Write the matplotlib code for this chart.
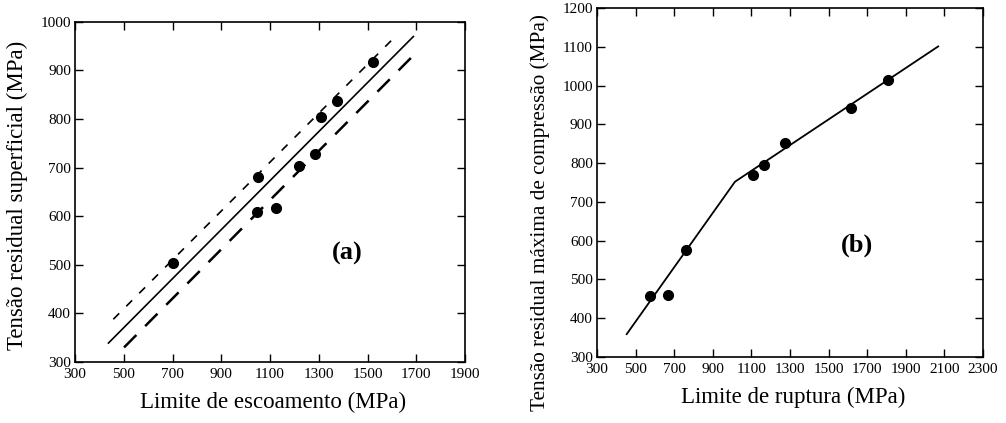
import numpy as np
import matplotlib
matplotlib.use("Agg")
import matplotlib.pyplot as plt

plt.rcParams['font.family'] = ['Liberation Serif', 'DejaVu Serif']

# (a) limite de escoamento x tensao residual superficial
esc_x = [700, 1045, 1052, 1125, 1220, 1285, 1308, 1374, 1524]
esc_y = [504, 608, 680, 616, 704, 729, 804, 837, 917]
fit_a_x = [437, 1688]
fit_a_y = [339, 970]
sup_a_x = [457, 1606]
sup_a_y = [388, 966]
inf_a_x = [501, 1684]
inf_a_y = [330, 929]

# (b) limite de ruptura x tensao residual maxima de compressao
rup_x = [575, 669, 759, 1110, 1167, 1274, 1614, 1809]
rup_y = [458, 460, 575, 769, 795, 851, 942, 1015]
fit_b_x = [454, 1015, 2068]
fit_b_y = [359, 752, 1101]

ticks_a_x = list(range(300, 2000, 200))
ticks_a_y = list(range(300, 1100, 100))
ticks_b_x = list(range(300, 2400, 200))
ticks_b_y = list(range(300, 1300, 100))

fig = plt.figure(figsize=(10.06, 4.23), dpi=100)
ax1 = fig.add_axes([0.0746, 0.1442, 0.3877, 0.804])
ax2 = fig.add_axes([0.5934, 0.156, 0.3837, 0.825])

for ax in (ax1, ax2):
    ax.tick_params(direction='in', top=True, right=True, length=6, width=1,
                   labelsize=11)
    ax.tick_params(axis='x', pad=4)
    ax.tick_params(axis='y', pad=3)
    for s in ax.spines.values():
        s.set_linewidth(1.2)

ax1.plot(fit_a_x, fit_a_y, color='black', lw=1.2)
ax1.plot(sup_a_x, sup_a_y, color='black', lw=1.2, dashes=(5, 6))
ax1.plot(inf_a_x, inf_a_y, color='black', lw=1.8, dashes=(7, 5))
ax1.plot(esc_x, esc_y, 'o', color='black', ms=7)
ax1.set_xlim(300, 1900)
ax1.set_ylim(300, 1000)
ax1.set_xticks(ticks_a_x)
ax1.set_yticks(ticks_a_y)
ax1.set_xlabel('Limite de escoamento (MPa)', fontsize=16.5)
ax1.xaxis.set_label_coords(0.508, -0.088)
ax1.set_ylabel('Tensão residual superficial (MPa)', fontsize=16.5)
ax1.yaxis.set_label_coords(-0.12, 0.49)
ax1.text(1415, 524, '(a)', fontsize=19, fontweight='bold', ha='center', va='center')

ax2.plot(fit_b_x, fit_b_y, color='black', lw=1.3)
ax2.plot(rup_x, rup_y, 'o', color='black', ms=7)
ax2.set_xlim(300, 2300)
ax2.set_ylim(300, 1200)
ax2.set_xticks(ticks_b_x)
ax2.set_yticks(ticks_b_y)
ax2.set_xlabel('Limite de ruptura (MPa)', fontsize=16.5)
ax2.xaxis.set_label_coords(0.508, -0.086)
# slightly smaller so the long label stays inside the figure
ax2.set_ylabel('Tensão residual máxima de compressão (MPa)', fontsize=15.3)
ax2.yaxis.set_label_coords(-0.122, 0.415)
ax2.text(1645, 587, '(b)', fontsize=19, fontweight='bold', ha='center', va='center')

fig.savefig('out.png', dpi=100)
